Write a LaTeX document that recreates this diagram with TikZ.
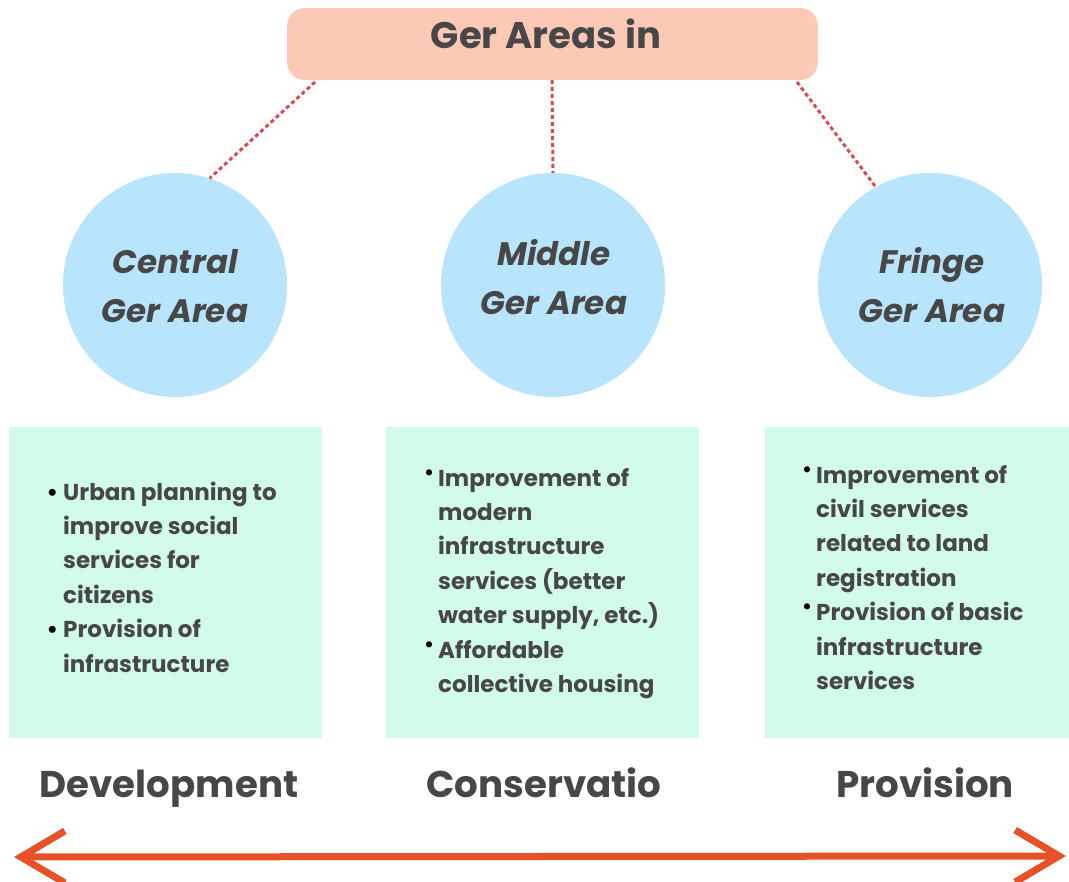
\documentclass[tikz,border=0pt]{standalone}
\usepackage{fontspec}
\setmainfont{Poppins}
\usetikzlibrary{arrows.meta}
\definecolor{txt}{HTML}{474747}
\definecolor{titlefill}{HTML}{FDC9B7}
\definecolor{circfill}{HTML}{B8E4FC}
\definecolor{boxfill}{HTML}{D3FBE9}
\definecolor{dashcol}{HTML}{DC4A52}
\definecolor{arrowcol}{HTML}{E65127}
\newcommand{\bul}{\llap{\textcolor{black}{\textbullet}\hspace{5pt}}}
\newcommand{\rbul}{\llap{\raisebox{0.3em}{\fontsize{20}{20}\selectfont\textcolor{black}{\textbullet}}\hspace{4pt}}}
\begin{document}
\begin{tikzpicture}[x=1pt,y=-1pt,
  titlebox/.style={fill=titlefill, rounded corners=18pt, minimum width=531pt, minimum height=72pt, inner sep=0pt},
  titletext/.style={text=txt, font=\fontsize{37}{40}\selectfont\bfseries, anchor=base, inner sep=0pt},
  areacirc/.style={circle, fill=circfill, minimum size=224pt, inner sep=0pt},
  areatext/.style={text=txt, font=\fontsize{32.5}{49}\selectfont\bfseries\itshape, align=center, anchor=base, inner sep=0pt},
  infobox/.style={fill=boxfill, minimum width=313pt, minimum height=311pt, inner sep=0pt, anchor=north west},
  infotext/.style={text=txt, font=\fontsize{23}{34.4}\selectfont\bfseries, align=left, anchor=base west, inner sep=0pt},
  stagetext/.style={text=txt, font=\fontsize{37.2}{40}\selectfont\bfseries, anchor=base, inner sep=0pt},
  link/.style={dashcol, line width=3pt, dash pattern=on 4pt off 3pt},
  axis/.style={arrowcol, line width=7pt, {Straight Barb[length=44pt,width=52pt]}-{Straight Barb[length=44pt,width=52pt]}}
]
\useasboundingbox (0,0) rectangle (1069,882);
\fill[white] (0,0) rectangle (1069,882);

% title
\node[titlebox] (title) at (552.5,44) {};
\node[titletext] (titlet) at (546,49) {Ger Areas in};

% circles
\node[areacirc] (c1) at (175,285) {};
\node[areacirc] (c2) at (553,285) {};
\node[areacirc] (c3) at (930,285) {};
% anchor=base is the baseline of the last line
\node[areatext] (t1) at (175,323) {Central\\Ger Area};
\node[areatext] (t2) at (554,315) {Middle\\Ger Area};
\node[areatext] (t3) at (932,323) {Fringe\\Ger Area};

% connectors
\coordinate (s1) at (315,82);
\coordinate (s2) at (552,80);
\coordinate (s3) at (797,82);
\draw[link] (s1) -- (c1.72);
\draw[link] (s2) -- (c2.north);
\draw[link] (s3) -- (c3.119);

% boxes
\node[infobox] (b1) at (9,427) {};
\node[infobox] (b2) at (386,427) {};
\node[infobox, minimum width=304pt] (b3) at (765,427) {};

\node[infotext] (i1) at (63,672) {\bul Urban planning to\\improve social\\services for\\citizens\\\bul Provision of\\infrastructure};
\node[infotext] (i2) at (438,692.4) {\rbul Improvement of\\modern\\infrastructure\\services (better\\water supply, etc.)\\\rbul Affordable\\collective housing};
\node[infotext] (i3) at (816,689.4) {\rbul Improvement of\\civil services\\related to land\\registration\\\rbul Provision of basic\\infrastructure\\services};

% stages
\node[stagetext] (d1) at (169,797) {Development};
\node[stagetext] (d2) at (544,797) {Conservatio};
\node[stagetext] (d3) at (925,797) {Provision};

% axis
\coordinate (al) at (14,857);
\coordinate (ar) at (1066,856);
\draw[axis] (al) -- (ar);
\end{tikzpicture}
\end{document}
